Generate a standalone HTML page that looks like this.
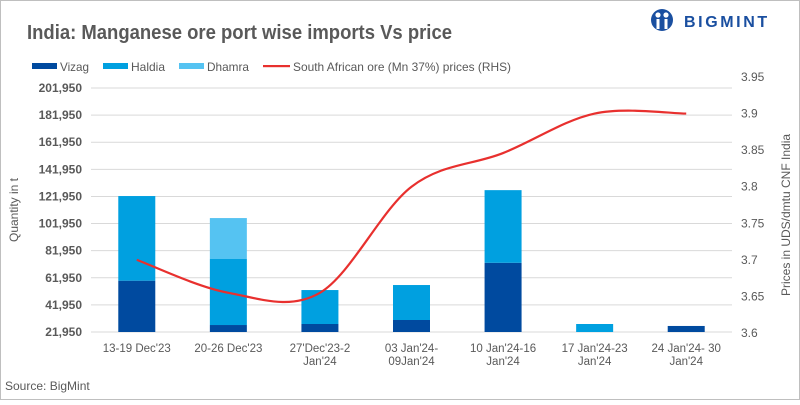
<!DOCTYPE html>
<html><head><meta charset="utf-8"><style>
html,body{margin:0;padding:0;background:#fff;}
body{width:800px;height:400px;overflow:hidden;font-family:"Liberation Sans",sans-serif;}
svg text{font-family:"Liberation Sans",sans-serif;}
</style></head><body>
<svg id="chart" width="800" height="400" xmlns="http://www.w3.org/2000/svg">
<rect x="0.5" y="0.5" width="799" height="399" fill="#fff" stroke="#bfbfbf"/>
<text x="27" y="39" font-size="20" font-weight="bold" fill="#595959" textLength="425" lengthAdjust="spacingAndGlyphs">India: Manganese ore port wise imports Vs price</text>
<g>
<circle cx="662" cy="20" r="11" fill="#1a4fa0"/>
<circle cx="658" cy="15" r="2.6" fill="#fff"/><circle cx="666" cy="15" r="2.6" fill="#fff"/>
<rect x="656.5" y="19" width="3" height="10" fill="#fff"/><rect x="664.5" y="19" width="3" height="10" fill="#fff"/>
<text x="684" y="27" font-size="16" font-weight="bold" fill="#1a4fa0" letter-spacing="2.6">BIGMINT</text>
</g>
<g id="legend" font-size="12" fill="#595959">
<g><rect x="32" y="63" width="25" height="6" fill="#004a9f"/><text x="60" y="71" textLength="29" lengthAdjust="spacingAndGlyphs">Vizag</text></g>
<g><rect x="103" y="63" width="25" height="6" fill="#00a0e0"/><text x="131" y="71" textLength="34" lengthAdjust="spacingAndGlyphs">Haldia</text></g>
<g><rect x="179" y="63" width="25" height="6" fill="#55c3f2"/><text x="207" y="71" textLength="42" lengthAdjust="spacingAndGlyphs">Dhamra</text></g>
<g><rect x="263" y="65" width="27" height="2.2" fill="#e8302e"/><text x="293" y="71" textLength="218" lengthAdjust="spacingAndGlyphs">South African ore (Mn 37%) prices (RHS)</text></g>
</g>
<g id="grid"></g>
<g id="yleft" font-size="12" font-weight="bold" fill="#595959" text-anchor="end"></g>
<g id="yright" font-size="12" fill="#595959"></g>
<g id="bars"></g>
<g id="xlabels" font-size="11.5" fill="#595959" text-anchor="middle"></g>
<path id="priceLine" fill="none" stroke="#e8302e" stroke-width="2.2"/>
<text transform="translate(18,210) rotate(-90)" font-size="12" fill="#595959" text-anchor="middle">Quantity in t</text>
<text transform="translate(790,215) rotate(-90)" font-size="12" fill="#595959" text-anchor="middle">Prices in UDS/dmtu CNF India</text>
<text x="5" y="390" font-size="12" fill="#595959">Source:  BigMint</text>
</svg>
<script>
const categories=[["13-19 Dec'23"],["20-26 Dec'23"],["27'Dec'23-2","Jan'24"],["03 Jan'24-","09Jan'24"],["10 Jan'24-16","Jan'24"],["17 Jan'24-23","Jan'24"],["24 Jan'24- 30","Jan'24"]];
const vizag=[59800,27100,27850,30800,73000,0,26400];
const haldia=[62450,48700,25050,25800,53600,27850,0];
const dhamra=[0,30200,0,0,0,0,0];
const prices=[3.70,3.655,3.655,3.80,3.846,3.90,3.90];
const leftTicks=[21950,41950,61950,81950,101950,121950,141950,161950,181950,201950];
const rightTicks=[3.6,3.65,3.7,3.75,3.8,3.85,3.9,3.95];

const NS="http://www.w3.org/2000/svg";
const plotL=91,plotR=732,yMinL=21950,yMaxL=201950,yB=332,yT=88;
const yL=v=>yB-(v-yMinL)/(yMaxL-yMinL)*(yB-yT);
const yR=v=>333-(v-3.6)/0.35*(333-77);
const step=(plotR-plotL)/categories.length;
const xC=i=>plotL+step*(i+0.5);
function mk(t,a,p){const e=document.createElementNS(NS,t);for(const k in a)e.setAttribute(k,a[k]);p.appendChild(e);return e;}
const grid=document.getElementById('grid'),yl=document.getElementById('yleft'),yr=document.getElementById('yright');
leftTicks.forEach(v=>{
 const l=mk('line',{x1:plotL,x2:plotR,y1:yL(v),y2:yL(v),stroke:'#d9d9d9','stroke-width':1},grid);
 
 
 const t=mk('text',{x:82,y:yL(v)+4},yl);t.textContent=v.toLocaleString('en-US');
 
 
});
rightTicks.forEach(v=>{
 const t=mk('text',{x:741,y:yR(v)+4},yr);t.textContent=String(v);
 
 
});
const bars=document.getElementById('bars'),bw=37;
function clampY(v){return yL(Math.max(v,yMinL));}
categories.forEach((c,i)=>{
 const segs=[[vizag[i],'#004a9f','vizag'],[haldia[i],'#00a0e0','haldia'],[dhamra[i],'#55c3f2','dhamra']];
 let base=0;
 segs.forEach(s=>{
  if(s[0]<=0)return;
  const top=base+s[0];
  const y1=clampY(top),y0=clampY(base);
  const r=mk('rect',{x:xC(i)-bw/2,y:y1,width:bw,height:Math.max(0,y0-y1),fill:s[1]},bars);
  
  
  base=top;
 });
 const xl=document.getElementById('xlabels');
 c.forEach((line,j)=>{
  const t=mk('text',{x:xC(i),y:352+j*13},xl);t.textContent=line;
  
  
 });
});
const pts=prices.map((p,i)=>[xC(i),yR(p)]);
let d='M'+pts[0][0]+','+pts[0][1];
for(let i=0;i<pts.length-1;i++){
 const p0=pts[Math.max(0,i-1)],p1=pts[i],p2=pts[i+1],p3=pts[Math.min(pts.length-1,i+2)];
 const t=1/6;
 const c1=[p1[0]+(p2[0]-p0[0])*t,p1[1]+(p2[1]-p0[1])*t];
 const c2=[p2[0]-(p3[0]-p1[0])*t,p2[1]-(p3[1]-p1[1])*t];
 d+=' C'+c1+' '+c2+' '+p2;
}
document.getElementById('priceLine').setAttribute('d',d);
</script>
</body></html>
